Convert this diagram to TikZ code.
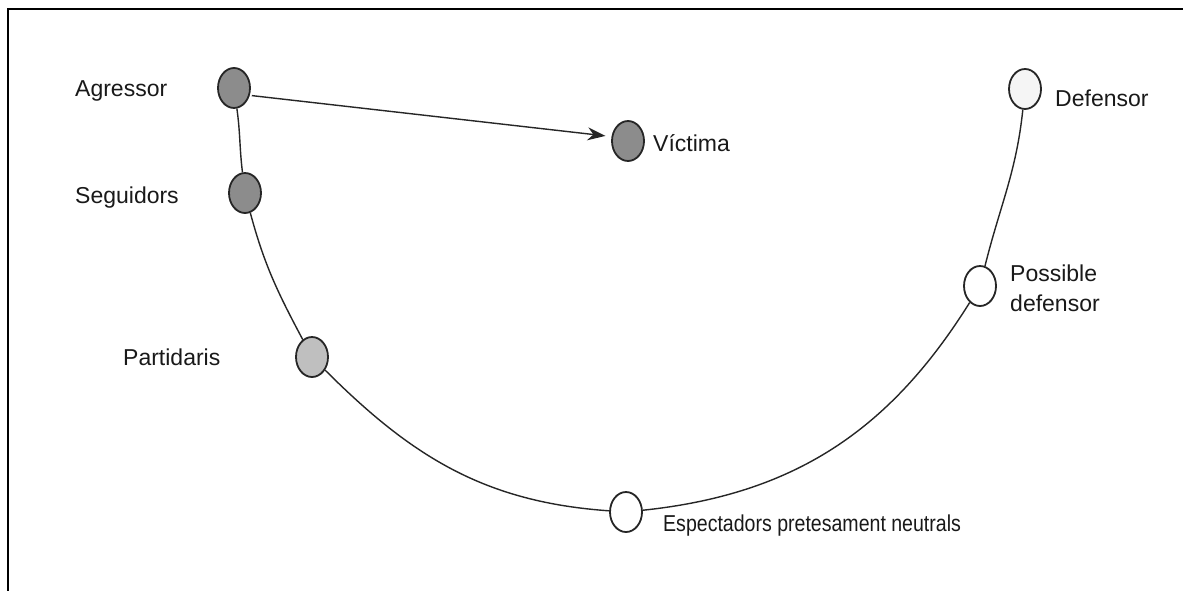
\documentclass[tikz,border=0pt]{standalone}
\usepackage{fontspec}
\setmainfont{Liberation Sans}
\newfontfamily\condfont[FakeStretch=0.85]{Liberation Sans}
\usetikzlibrary{arrows.meta,shapes.geometric}
\tikzset{
  actor/.style={ellipse, draw=black!85, line width=1.8pt, inner sep=0pt,
    minimum width=32pt, minimum height=40pt},
  darkactor/.style={actor, fill=black!45},
  midactor/.style={actor, fill=black!25},
  lightactor/.style={actor, fill=white},
  lbl/.style={inner sep=0pt, font=\fontsize{23}{30}\selectfont, text=black!90},
  curveline/.style={draw=black!85, line width=1.4pt},
  arrowline/.style={draw=black!85, line width=1.4pt,
    -{Stealth[length=18pt,width=13pt]}, shorten >=6pt, shorten <=2pt},
  frameline/.style={draw=black, line width=2pt}
}
\begin{document}
\begin{tikzpicture}[x=1pt,y=1pt]
\useasboundingbox (0,0) rectangle (1183,-591);
\fill[white] (0,0) rectangle (1183,-591);
\draw[frameline] (1183,-9.5) -| (8,-591);

% actors
\node[darkactor] (agr) at (234,-88) {};
\node[darkactor] (seg) at (245,-193) {};
\node[midactor] (par) at (312,-357) {};
\node[darkactor] (vic) at (628,-141) {};
\node[actor, fill=black!4] (def) at (1025,-89) {};
\node[lightactor] (pos) at (980,-286) {};
\node[lightactor] (esp) at (626,-512) {};

% labels
\node[lbl, anchor=base west] (lagr) at (75,-97) {Agressor};
\node[lbl, anchor=base west] (lseg) at (75,-203) {Seguidors};
\node[lbl, anchor=base west] (lpar) at (123,-365) {Partidaris};
\node[lbl, anchor=base west] (lvic) at (653,-151) {Víctima};
\node[lbl, anchor=base west] (ldef) at (1055,-107) {Defensor};
\node[lbl, anchor=north west, align=left] (lpos) at (1010,-265) {Possible\\defensor};
\node[lbl, anchor=base west, font=\condfont\fontsize{23}{30}\selectfont] (lesp) at (663,-531) {Espectadors pretesament neutrals};

% curve
\draw[curveline] (agr) to[out=-82,in=97] (seg);
\draw[curveline] (seg) to[out=-75,in=118] (par);
\draw[curveline] (par) to[out=-45,in=176] (esp);
\draw[curveline] (esp) to[out=6,in=-122] (pos);
\draw[curveline] (pos) to[out=76,in=-96] (def);

% arrow
\draw[arrowline] (agr.-25) -- (vic.165);
\end{tikzpicture}
\end{document}
